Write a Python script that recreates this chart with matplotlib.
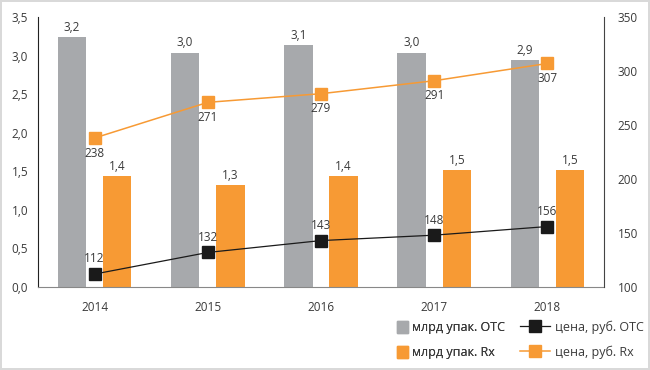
import matplotlib
matplotlib.use("Agg")
import matplotlib.pyplot as plt
import numpy as np
from matplotlib.lines import Line2D
from matplotlib.patches import Patch

# =========================
# data
# =========================
years = ["2014", "2015", "2016", "2017", "2018"]
otc_packs = [3.24, 3.04, 3.14, 3.04, 2.94]      # млрд упак. OTC
rx_packs = [1.44, 1.32, 1.44, 1.52, 1.52]       # млрд упак. Rx
otc_price = [112, 132, 143, 148, 156]           # цена, руб. OTC
rx_price = [238, 271, 279, 291, 307]            # цена, руб. Rx

GRAY = "#a7a9ac"
ORANGE = "#f79a34"
TEXT = "#3a3a3a"
FS = 8.5

plt.rcParams["font.family"] = ["Open Sans", "DejaVu Sans"]
plt.rcParams["font.size"] = FS

fig = plt.figure(figsize=(6.5, 3.7), dpi=100)
fig.patch.set_edgecolor("#d9d9d9")
fig.patch.set_linewidth(1.5)
ax = fig.add_axes([0.0585, 0.2243, 0.8707, 0.7297])
ax2 = ax.twinx()

x = np.arange(len(years))
w = 0.25
b1 = ax.bar(x - 0.2, otc_packs, w, color=GRAY, zorder=2)
b2 = ax.bar(x + 0.2, rx_packs, w, color=ORANGE, zorder=2)
for rect, v in zip(list(b1) + list(b2), otc_packs + rx_packs):
    ax.text(rect.get_x() + rect.get_width() / 2, rect.get_height() + 0.04,
            f"{v:.1f}".replace(".", ","), ha="center", va="bottom", color=TEXT)

ax.set_xlim(-0.5, 4.5)
ax.set_ylim(0, 3.5)
ax.set_yticks(np.arange(0, 3.51, 0.5))
ax.set_yticklabels([f"{t:.1f}".replace(".", ",") for t in np.arange(0, 3.51, 0.5)])
ax.set_xticks(x)
ax.set_xticklabels(years)

ax2.plot(x, otc_price, color="#1a1a1a", lw=0.9, marker="s", ms=8.5, zorder=3)
ax2.plot(x, rx_price, color=ORANGE, lw=1.1, marker="s", ms=8.5, zorder=3)
ax2.set_ylim(100, 350)
ax2.set_yticks(range(100, 351, 50))
for xi, v in zip(x, otc_price):
    ax2.text(xi, v + 8, str(v), ha="center", va="bottom", color=TEXT)
for xi, v in zip(x, rx_price):
    ax2.text(xi, v - 8, str(v), ha="center", va="top", color=TEXT)

for a in (ax, ax2):
    a.spines["top"].set_visible(False)
    a.tick_params(length=0, colors=TEXT, labelsize=FS)
ax.spines["right"].set_visible(False)
ax2.spines["left"].set_visible(False)
ax2.spines["bottom"].set_visible(False)
ax.spines["left"].set_color("#222222")
ax2.spines["right"].set_color("#444444")
ax.spines["bottom"].set_color("#888888")
ax.tick_params(axis="y", pad=7)
ax.tick_params(axis="x", pad=10)
ax2.tick_params(axis="y", pad=10)

# legend: bars (short square handles) and lines (long handles)
LFS = 9
bar_handles = [Patch(color=GRAY), Patch(color=ORANGE)]
line_handles = [
    Line2D([], [], color="#1a1a1a", lw=0.9, marker="s", ms=8),
    Line2D([], [], color=ORANGE, lw=1.1, marker="s", ms=8),
]
leg1 = fig.legend(bar_handles, ["млрд упак. OTC", "млрд упак. Rx"],
                  loc="center left", bbox_to_anchor=(0.594, 0.081),
                  frameon=False, handlelength=0.85, handleheight=1.1,
                  handletextpad=0.3, labelspacing=0.9, fontsize=LFS,
                  labelcolor=TEXT)
fig.legend(line_handles, ["цена, руб. OTC", "цена, руб. Rx"],
           loc="center left", bbox_to_anchor=(0.782, 0.081),
           frameon=False, handlelength=2.4, handleheight=1.1,
           handletextpad=0.4, labelspacing=0.9, fontsize=LFS,
           labelcolor=TEXT)
fig.add_artist(leg1)

fig.savefig("out.png", dpi=100)
